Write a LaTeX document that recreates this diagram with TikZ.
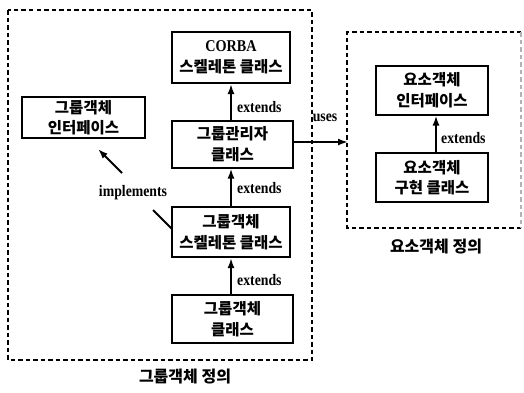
\documentclass[tikz,border=0pt]{standalone}
\usepackage{fontspec}
\setmainfont{Liberation Serif}
\newfontfamily\kr{Noto Sans CJK KR}
\newfontfamily\lat[FakeStretch=0.86]{Liberation Serif}
\usetikzlibrary{arrows.meta}
\tikzset{
  box/.style={draw, line width=2pt, align=center, inner sep=0pt,
    font=\kr\bfseries\fontsize{15.5}{20.5}\selectfont},
  frame/.style={line width=1.6pt, dash pattern=on 4.5pt off 3pt},
  arr/.style={line width=2pt, -{Latex[length=10pt,width=7pt]}},
  plain/.style={line width=2pt},
  lab/.style={font=\lat\bfseries\fontsize{16}{18}\selectfont, inner sep=0pt},
  title/.style={font=\kr\bfseries\fontsize{16}{18}\selectfont, inner sep=0pt}
}
\begin{document}
\begin{tikzpicture}[x=1pt,y=-1pt]
\useasboundingbox (0,0) rectangle (524,392);
% frames
\draw[frame] (8,10) rectangle (312,360);
\draw[frame] (521,228) -- (347,228) -- (347,32) -- (521,32);
\draw[frame, black!30] (521,32) -- (521,228);
% boxes
\node[box, minimum width=118pt, minimum height=51pt] (corba) at (231,57.5) {{\lat\bfseries\fontsize{16.5}{16}\selectfont CORBA}\\스켈레톤 클래스};
\node[box, minimum width=123pt, minimum height=41pt] (gif) at (83.5,117.5) {그룹객체\\인터페이스};
\node[box, minimum width=121pt, minimum height=47pt] (mgr) at (232.5,144) {그룹관리자\\클래스};
\node[box, minimum width=118pt, minimum height=50pt] (skel) at (231,232) {그룹객체\\스켈레톤 클래스};
\node[box, minimum width=121pt, minimum height=48pt] (cls) at (232.5,319) {그룹객체\\클래스};
\node[box, minimum width=112pt, minimum height=49pt] (eif) at (432,90) {요소객체\\인터페이스};
\node[box, minimum width=112pt, minimum height=49pt] (eimp) at (432,177.5) {요소객체\\구현 클래스};
% titles
\node[title] (t1) at (185,377) {그룹객체 정의};
\node[title] (t2) at (436,247) {요소객체 정의};
% connectors
\coordinate (a1) at (231,122);
\coordinate (a2) at (231,83);
\draw[arr] (mgr.north -| a1) -- (corba.south -| a2);
\draw[arr] (skel.north -| a1) -- (mgr.south -| a1);
\draw[arr] (cls.north -| a1) -- (skel.south -| a1);
\coordinate (e1) at (436,0);
\draw[arr] (eimp.north -| e1) -- (eif.south -| e1);
\coordinate (usesend) at (348,142);
\draw[arr] (mgr.east |- usesend) -- (usesend);
\coordinate (imA) at (122,173);
\coordinate (imB) at (98,149);
\draw[arr] (imA) -- (imB);
\coordinate (imC) at (153,210);
\coordinate (imD) at (172,229);
\draw[plain] (imC) -- (imD);
% labels
\node[lab, anchor=west] (x1) at (237,107) {extends};
\node[lab, anchor=west] (x2) at (237,188) {extends};
\node[lab, anchor=west] (x3) at (237,280) {extends};
\node[lab, anchor=west] (x4) at (441,138) {extends};
\node[lab] (u) at (325,118) {uses};
\node[lab] (im) at (133,193) {implements};
\end{tikzpicture}
\end{document}
